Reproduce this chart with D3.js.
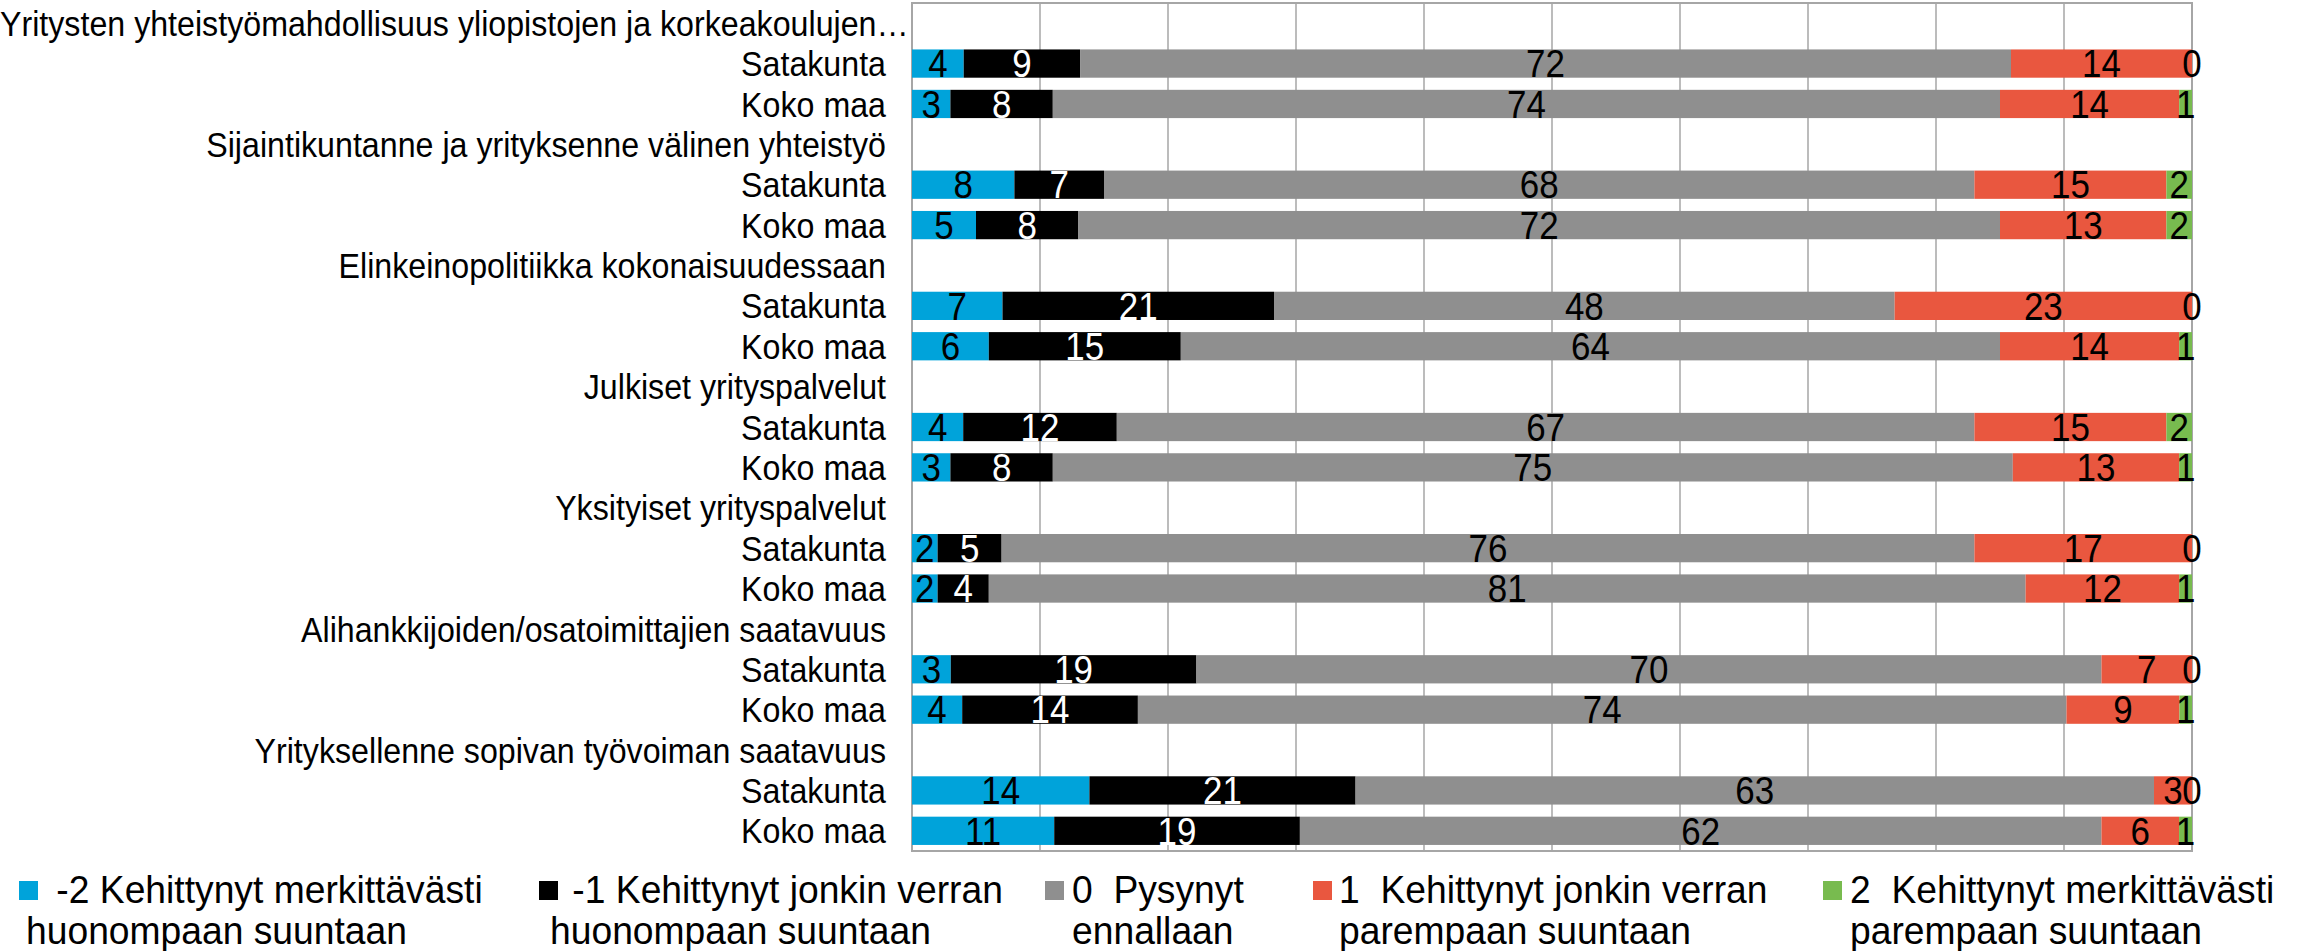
<!DOCTYPE html>
<html>
<head>
<meta charset="utf-8">
<script src="https://cdn.jsdelivr.net/npm/d3@7"></script>
<style>
  html, body { margin: 0; padding: 0; background: #fff; }
  svg { display: block; }
  text { font-family: "Liberation Sans", Arial, sans-serif; white-space: pre; }
</style>
</head>
<body>
<svg id="chart" width="2300" height="951"></svg>
<script>
(function () {
  "use strict";

  // question groups, each with a Satakunta row and a Koko maa row
  const groups = [
    "Yritysten yhteistyömahdollisuus yliopistojen ja korkeakoulujen…",
    "Sijaintikuntanne ja yrityksenne välinen yhteistyö",
    "Elinkeinopolitiikka kokonaisuudessaan",
    "Julkiset yrityspalvelut",
    "Yksityiset yrityspalvelut",
    "Alihankkijoiden/osatoimittajien saatavuus",
    "Yrityksellenne sopivan työvoiman saatavuus"
  ];
  const regions = ["Satakunta", "Koko maa"];

  // shares per row, in order: group1 Satakunta, group1 Koko maa, group2 ...
  const minus2 = [4, 3, 8, 5, 7, 6, 4, 3, 2, 2, 3, 4, 14, 11];
  const minus1 = [9, 8, 7, 8, 21, 15, 12, 8, 5, 4, 19, 14, 21, 19];
  const neutral = [72, 74, 68, 72, 48, 64, 67, 75, 76, 81, 70, 74, 63, 62];
  const plus1 = [14, 14, 15, 13, 23, 14, 15, 13, 17, 12, 7, 9, 3, 6];
  const plus2 = [0, 1, 2, 2, 0, 1, 2, 1, 0, 1, 0, 1, 0, 1];

  const seriesKeys = ["m2", "m1", "n0", "p1", "p2"];
  const legendLines = [
    [" -2 Kehittynyt merkittävästi", "huonompaan suuntaan"],
    [" -1 Kehittynyt jonkin verran", "huonompaan suuntaan"],
    ["0  Pysynyt", "ennallaan"],
    ["1  Kehittynyt jonkin verran", "parempaan suuntaan"],
    ["2  Kehittynyt merkittävästi", "parempaan suuntaan"]
  ];
  const colors = ["#00A3DA", "#000000", "#8F8F8F", "#E9573F", "#78BB4F"];
  const labelColors = ["#000", "#fff", "#000", "#000", "#000"];

  const svg = d3.select("#chart");
  const SX = 0.92; // the original text is a little narrower than Arial

  // build the 21 rows: a title row then two data rows per group
  const rows = [];
  const dataRows = [];
  groups.forEach((g, gi) => {
    rows.push({ id: "g" + gi, label: g, title: true });
    regions.forEach((r, ri) => {
      const i = gi * 2 + ri;
      const d = {
        id: "g" + gi + "r" + ri, label: r, title: false,
        m2: minus2[i], m1: minus1[i], n0: neutral[i], p1: plus1[i], p2: plus2[i]
      };
      rows.push(d);
      dataRows.push(d);
    });
  });

  const plotLeft = 912, plotRight = 2192, plotTop = 3, plotBottom = 851;

  const x = d3.scaleLinear().domain([0, 1]).range([plotLeft, plotRight]);
  const y = d3.scaleBand()
    .domain(rows.map((d) => d.id))
    .range([plotTop, plotBottom])
    .paddingInner(0.3)
    .paddingOuter(0.15);

  const stacked = d3.stack().keys(seriesKeys).offset(d3.stackOffsetExpand)(dataRows);

  function place(px, py, sx) {
    return `translate(${px},${py}) scale(${sx || SX},1)`;
  }

  // grid
  svg.append("g")
    .selectAll("line")
    .data(x.ticks(10))
    .join("line")
    .attr("x1", (d) => x(d)).attr("x2", (d) => x(d))
    .attr("y1", plotTop).attr("y2", plotBottom)
    .attr("stroke", "#A6A6A6")
    .attr("stroke-width", 1.5);

  svg.append("rect")
    .attr("x", plotLeft).attr("y", plotTop)
    .attr("width", plotRight - plotLeft).attr("height", plotBottom - plotTop)
    .attr("fill", "none")
    .attr("stroke", "#A6A6A6")
    .attr("stroke-width", 2);

  // bars
  const layer = svg.append("g")
    .selectAll("g")
    .data(stacked)
    .join("g")
    .attr("fill", (s, i) => colors[i]);

  layer.selectAll("rect")
    .data((s) => s)
    .join("rect")
    .attr("x", (d) => x(d[0]))
    .attr("width", (d) => x(d[1]) - x(d[0]))
    .attr("y", (d) => y(d.data.id))
    .attr("height", y.bandwidth());

  // value labels
  const labels = svg.append("g");
  stacked.forEach((s, si) => {
    labels.selectAll(null)
      .data(s)
      .join("text")
      .attr("transform", (d) => place((x(d[0]) + x(d[1])) / 2, y(d.data.id) + y.bandwidth() / 2))
      .attr("text-anchor", "middle")
      .attr("dy", "0.36em")
      .attr("font-size", 38)
      .attr("fill", labelColors[si])
      .text((d) => d.data[s.key]);
  });

  // category axis labels; a label too long for the gutter starts at the left edge
  const gutter = 886;
  const catLabels = svg.append("g")
    .selectAll("text")
    .data(rows)
    .join("text")
    .attr("transform", (d) => place(gutter, y(d.id) + y.bandwidth() / 2))
    .attr("text-anchor", "end")
    .attr("dy", "0.36em")
    .attr("font-size", 35)
    .attr("fill", "#000")
    .text((d) => d.label);

  catLabels.each(function (d) {
    if (this.getComputedTextLength() * SX > gutter) {
      d3.select(this)
        .attr("text-anchor", "start")
        .attr("transform", place(0, y(d.id) + y.bandwidth() / 2));
    }
  });

  // legend
  const LSX = 0.955;
  const legendX = [
    { m: 19, t1: 46, t2: 26 },
    { m: 539, t1: 562, t2: 550 },
    { m: 1045, t1: 1072, t2: 1072 },
    { m: 1313, t1: 1339, t2: 1339 },
    { m: 1823, t1: 1850, t2: 1850 }
  ];
  const legend = svg.append("g")
    .selectAll("g")
    .data(legendLines)
    .join("g");

  legend.append("rect")
    .attr("x", (d, i) => legendX[i].m)
    .attr("y", 881)
    .attr("width", 19).attr("height", 19)
    .attr("fill", (d, i) => colors[i]);

  legend.append("text")
    .attr("transform", (d, i) => place(legendX[i].t1, 903, LSX))
    .attr("font-size", 39)
    .text((d) => d[0]);

  legend.append("text")
    .attr("transform", (d, i) => place(legendX[i].t2, 944, LSX))
    .attr("font-size", 39)
    .text((d) => d[1]);
})();
</script>
</body>
</html>
